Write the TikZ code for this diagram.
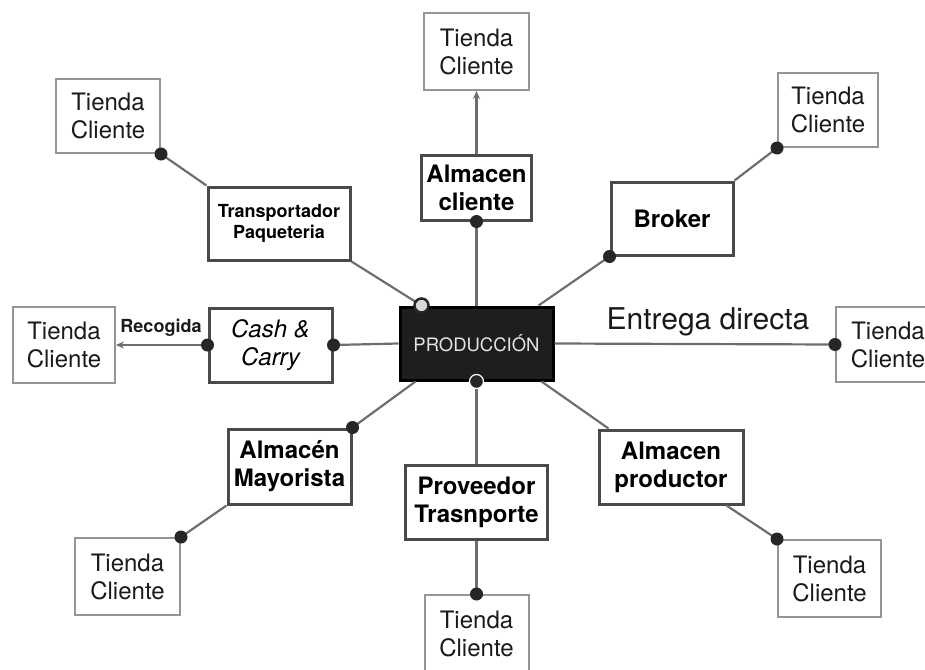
\documentclass[tikz,border=0pt]{standalone}
\usepackage{fontspec}
\setmainfont{TeX Gyre Heros}
\usetikzlibrary{arrows.meta,calc}
\definecolor{linegray}{HTML}{6E6E6E}
\definecolor{shopgray}{HTML}{959595}
\definecolor{boxgray}{HTML}{4A4A4A}
\definecolor{prodfill}{HTML}{1E1E1E}
\definecolor{textdark}{HTML}{1A1A1A}

\begin{document}
\begin{tikzpicture}[x=1pt,y=-1pt,
  link/.style={draw=linegray, line width=2.2pt},
  tipped/.style={-{Stealth[length=8pt,width=7pt]}},
  shop/.style={draw=shopgray, line width=2pt, fill=white, align=center,
    inner sep=0pt, text=textdark, font=\fontsize{24}{28}\selectfont,
    minimum width=104pt, minimum height=76pt},
  hub/.style={draw=boxgray, line width=3pt, fill=white, align=center,
    inner sep=0pt, text=black, font=\fontsize{24}{28}\selectfont\bfseries},
  dot/.style={circle, fill=black!85, inner sep=0pt, minimum size=13pt},
  linklabel/.style={inner sep=0pt, text=textdark}
]
\path[use as bounding box, clip] (0,0) rectangle (925,669);

% central production block
\node[hub, fill=prodfill, draw=black, minimum width=153pt, minimum height=73pt,
  font=\fontsize{18.5}{22}\selectfont, text=black!10] (prod) at (476.5,343.5) {PRODUCCIÓN};

% intermediaries
\node[hub, minimum width=110pt, minimum height=65pt] (ac) at (476.5,187.5) {Almacen\\cliente};
\node[hub, minimum width=142pt, minimum height=73pt,
  font=\fontsize{18}{21}\selectfont\bfseries] (tp) at (279,223.5) {Transportador\\Paqueteria};
\node[hub, minimum width=122pt, minimum height=73pt] (br) at (672,218.5) {Broker};
\node[hub, minimum width=123pt, minimum height=74pt,
  font=\fontsize{24}{28}\selectfont\itshape] (cc) at (270.5,345) {Cash \&\\Carry};
\node[hub, minimum width=123pt, minimum height=75pt] (am) at (289.5,466.5) {Almacén\\Mayorista};
\node[hub, minimum width=142pt, minimum height=74pt] (pt) at (476.5,502) {Proveedor\\Trasnporte};
\node[hub, minimum width=144pt, minimum height=74pt] (ap) at (671,467) {Almacen\\productor};

% customer shops
\node[shop, minimum width=105pt, minimum height=77pt] (t1) at (476.5,51.5) {Tienda\\Cliente};
\node[shop, minimum height=74pt] (t2) at (108,116) {Tienda\\Cliente};
\node[shop, minimum width=100pt, minimum height=74pt] (t3) at (828,110) {Tienda\\Cliente};
\node[shop, minimum width=102pt] (t4) at (64,345) {Tienda\\Cliente};
\node[shop, minimum height=75pt] (t5) at (888,344.5) {Tienda\\Cliente};
\node[shop, minimum width=105pt, minimum height=77pt] (t6) at (127.5,576.5) {Tienda\\Cliente};
\node[shop, minimum height=77pt] (t7) at (476.5,633.5) {Tienda\\Cliente};
\node[shop, minimum width=103pt, minimum height=77pt] (t8) at (829.5,578.5) {Tienda\\Cliente};

% attachment points on the block corners
\coordinate (ptl) at ($(prod.north west)+(23,0)$);
\coordinate (pbl) at ($(prod.south west)+(17,0)$);
\coordinate (ptr) at ($(prod.north east)+(-16,0)$);
\coordinate (pbr) at ($(prod.south east)+(-13,0)$);
\coordinate (apin) at ($(ap.north west)+(11,0)$);
\coordinate (apout) at ($(ap.south east)+(-18,0)$);

% connectors
\draw[link] (prod.north) -- (ac.south);
\draw[link, tipped] (ac.north) -- (t1.south);
\draw[link] (tp.south east) -- (ptl);
\draw[link] (tp.north west) -- (t2.south east);
\draw[link] (ptr) -- (br.south west);
\draw[link] (br.north east) -- (t3.south west);
\draw[link] (prod.east) -- (t5.west);
\draw[link] (prod.west) -- (cc.east);
\draw[link, tipped] (cc.west) -- (t4.east);
\draw[link] (pbl) -- (am.north east);
\draw[link] (am.south west) -- (t6.north east);
\draw[link] (prod.south) -- (pt.north);
\draw[link] (pt.south) -- (t7.north);
\draw[link] (pbr) -- (apin);
\draw[link] (apout) -- (t8.north west);

% connector labels
\node[linklabel, font=\fontsize{30}{34}\selectfont] (lentrega) at (708,322) {Entrega directa};
\node[linklabel, font=\fontsize{18}{21}\selectfont\bfseries] (lrecogida) at (161,328) {Recogida};

% junction dots
\node[dot] (d1) at (ac.south) {};
\node[dot] (d2) at (t2.south east) {};
\node[dot] (d3) at (br.south west) {};
\node[dot] (d4) at (t3.south west) {};
\node[dot] (d5) at (t5.west) {};
\node[dot] (d6) at (cc.east) {};
\node[dot] (d7) at (cc.west) {};
\node[dot] (d8) at (am.north east) {};
\node[dot] (d9) at (t6.north east) {};
\node[dot] (d10) at (t7.north) {};
\node[dot] (d11) at (t8.north west) {};
\node[dot, draw=white, line width=1.2pt, minimum size=14pt] (d12) at (prod.south) {};
\node[circle, draw=black!85, fill=black!15, line width=2.5pt, inner sep=0pt, minimum size=14pt] (d13) at (ptl) {};
\end{tikzpicture}
\end{document}
